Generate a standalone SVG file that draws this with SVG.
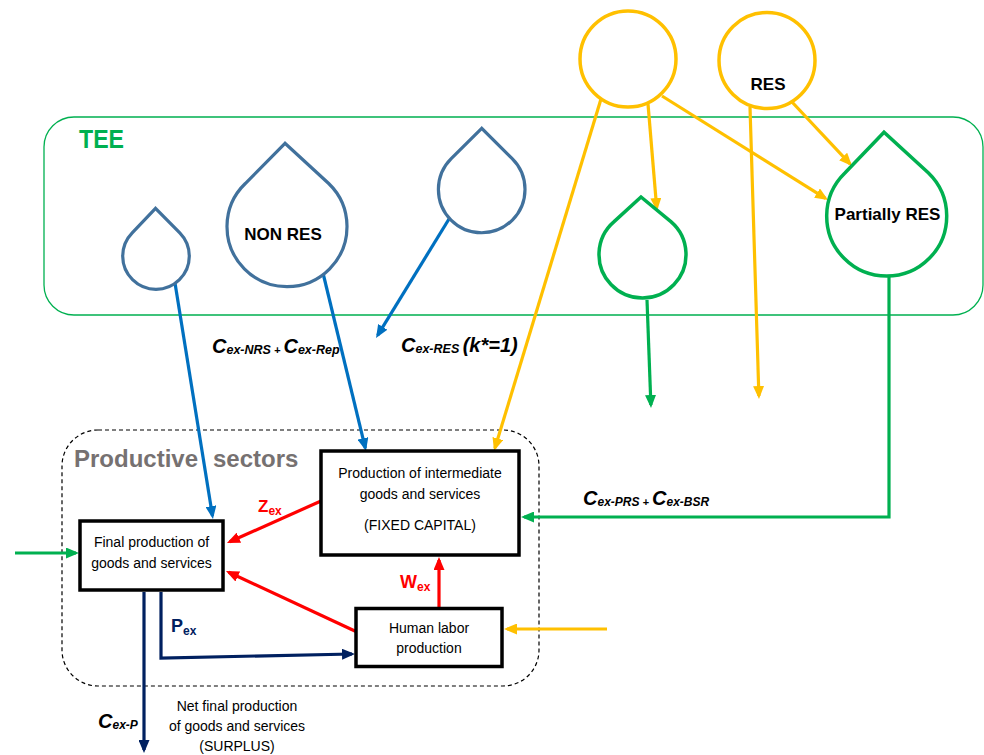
<svg xmlns="http://www.w3.org/2000/svg" width="984" height="755" viewBox="0 0 984 755">
<style>
text{font-family:"Liberation Sans",Arial,sans-serif;}
.t{font-size:14px;fill:#000;text-anchor:middle;}
.b{font-size:17px;font-weight:bold;fill:#000;text-anchor:middle;}
.lbl{font-weight:bold;font-style:italic;fill:#000;}
.dropb{fill:#fff;stroke:#41719C;stroke-width:3.2;stroke-linejoin:miter;}
.dropg{fill:#fff;stroke:#00B050;stroke-width:3.5;stroke-linejoin:miter;}
.circ{fill:#fff;stroke:#FFC000;stroke-width:3.5;}
.box{fill:#fff;stroke:#000;stroke-width:3.5;}
.c{fill:none;stroke-width:3.2;}
.blue{stroke:#0070C0;marker-end:url(#ab);}
.yel{stroke:#FFC000;marker-end:url(#ay);}
.grn{stroke:#00B050;marker-end:url(#ag);}
.red{stroke:#FF0000;marker-end:url(#ar);}
.navy{stroke:#002060;marker-end:url(#an);}
</style>
<defs>
<marker id="ab" markerUnits="userSpaceOnUse" markerWidth="13" markerHeight="11" refX="10" refY="5.5" orient="auto"><path d="M0,0L13,5.5L0,11z" fill="#0070C0"/></marker>
<marker id="ay" markerUnits="userSpaceOnUse" markerWidth="13" markerHeight="11" refX="10" refY="5.5" orient="auto"><path d="M0,0L13,5.5L0,11z" fill="#FFC000"/></marker>
<marker id="ag" markerUnits="userSpaceOnUse" markerWidth="13" markerHeight="11" refX="10" refY="5.5" orient="auto"><path d="M0,0L13,5.5L0,11z" fill="#00B050"/></marker>
<marker id="ar" markerUnits="userSpaceOnUse" markerWidth="13" markerHeight="11" refX="10" refY="5.5" orient="auto"><path d="M0,0L13,5.5L0,11z" fill="#FF0000"/></marker>
<marker id="an" markerUnits="userSpaceOnUse" markerWidth="13" markerHeight="11" refX="10" refY="5.5" orient="auto"><path d="M0,0L13,5.5L0,11z" fill="#002060"/></marker>
</defs>
<rect width="984" height="755" fill="#fff"/>

<g id="tee">
<rect x="44" y="117" width="939" height="198" rx="30" fill="none" stroke="#00B050" stroke-width="1.3"/>
<text x="79" y="148" font-size="26" font-weight="bold" fill="#00B050" textLength="45" lengthAdjust="spacingAndGlyphs">TEE</text>
</g>

<g id="productive-sectors">
<rect x="62" y="430" width="477" height="256" rx="36" fill="none" stroke="#000" stroke-width="1.2" stroke-dasharray="4,3"/>
<text y="467" font-size="24" font-weight="bold" fill="#767171"><tspan x="74">Productive</tspan><tspan x="213">sectors</tspan></text>
</g>

<g id="connectors">
<path class="c blue" d="M175,283L212.5,516"/>
<path class="c blue" d="M323,273L365.3,448.1"/>
<path class="c blue" d="M449,219L377.6,335.4"/>
<path class="c yel" d="M601,99L494.9,448.1"/>
<path class="c yel" d="M648,104L656.7,208"/>
<path class="c yel" d="M662,96L825.5,198.4"/>
<path class="c yel" d="M792,102L850,163.8"/>
<path class="c yel" d="M750,107L758.9,396"/>
<path class="c yel" d="M607,629L507,629"/>
<path class="c grn" d="M647,300L650.9,405"/>
<path class="c grn" d="M889,276V517H524"/>
<path class="c grn" d="M15,553H76"/>
<path class="c red" d="M321,501L229.7,541.8"/>
<path class="c red" d="M357,632L228.7,572.3"/>
<path class="c red" d="M439,608V560"/>
<path class="c navy" d="M144,592V750"/>
<path class="c navy" d="M161,592V658L352,654"/>
</g>

<g id="drop-1"><path class="dropb" d="M155.5,208.3L132.2,232.8A33.3,33.3 0 1 0 179.8,232.8Z"/></g>
<g id="drop-nonres"><path class="dropb" d="M285,143.3L245.3,183.5A60,60 0 1 0 328.7,183.5Z"/><text class="b" x="283" y="240">NON RES</text></g>
<g id="drop-3"><path class="dropb" d="M481.7,128.3L451.2,158.7A43.3,43.3 0 1 0 512.2,158.7Z"/></g>
<g id="drop-green"><path class="dropg" d="M641,197L614.1,221.6A43.5,43.5 0 1 0 670.9,221.6Z"/></g>
<g id="drop-partially-res"><path class="dropg" d="M884,132.3L844.9,173A60,60 0 1 0 928.5,173Z"/><text class="b" x="887.5" y="220">Partially RES</text></g>

<g id="circle-1"><circle class="circ" cx="628" cy="59" r="48"/></g>
<g id="circle-res"><circle class="circ" cx="767" cy="60.5" r="48"/><text class="b" x="768" y="90">RES</text></g>

<g id="final-production">
<rect class="box" x="80" y="521" width="143" height="69"/>
<text class="t" x="151.5" y="547">Final production of</text>
<text class="t" x="151.5" y="568">goods and services</text>
</g>
<g id="intermediate-production">
<rect class="box" x="321" y="451" width="198" height="104" stroke-width="4"/>
<text class="t" x="420" y="478">Production of intermediate</text>
<text class="t" x="420" y="499">goods and services</text>
<text class="t" x="420" y="530">(FIXED CAPITAL)</text>
</g>
<g id="human-labor">
<rect class="box" x="356" y="608.5" width="146" height="58"/>
<text class="t" x="429" y="633">Human labor</text>
<text class="t" x="429" y="653">production</text>
</g>

<g id="labels">
<text class="lbl" x="212" y="353"><tspan font-size="20">C</tspan><tspan font-size="12.5" dy="1">ex-NRS</tspan><tspan font-size="11"> + </tspan><tspan font-size="20" dy="-1">C</tspan><tspan font-size="12.5" dy="1">ex-Rep</tspan></text>
<text class="lbl" x="401" y="352"><tspan font-size="20">C</tspan><tspan font-size="12.5" dy="1">ex-RES </tspan><tspan font-size="20" dy="-1">(k*=1)</tspan></text>
<text class="lbl" x="583" y="505"><tspan font-size="20">C</tspan><tspan font-size="12" dy="1">ex-PRS</tspan><tspan font-size="11"> + </tspan><tspan font-size="20" dy="-1">C</tspan><tspan font-size="12" dy="1">ex-BSR</tspan></text>
<text class="lbl" x="98" y="728"><tspan font-size="20">C</tspan><tspan font-size="12" dy="1">ex-P</tspan></text>
<text x="258" y="512" font-weight="bold" fill="#FF0000"><tspan font-size="17">Z</tspan><tspan font-size="12" dy="3">ex</tspan></text>
<text x="400" y="588" font-weight="bold" fill="#FF0000"><tspan font-size="18">W</tspan><tspan font-size="12" dy="3">ex</tspan></text>
<text x="171" y="632" font-weight="bold" fill="#002060"><tspan font-size="18">P</tspan><tspan font-size="12" dy="3">ex</tspan></text>
<text class="t" x="237" y="711">Net final production</text>
<text class="t" x="237" y="731">of goods and services</text>
<text class="t" x="237" y="751">(SURPLUS)</text>
</g>
</svg>
